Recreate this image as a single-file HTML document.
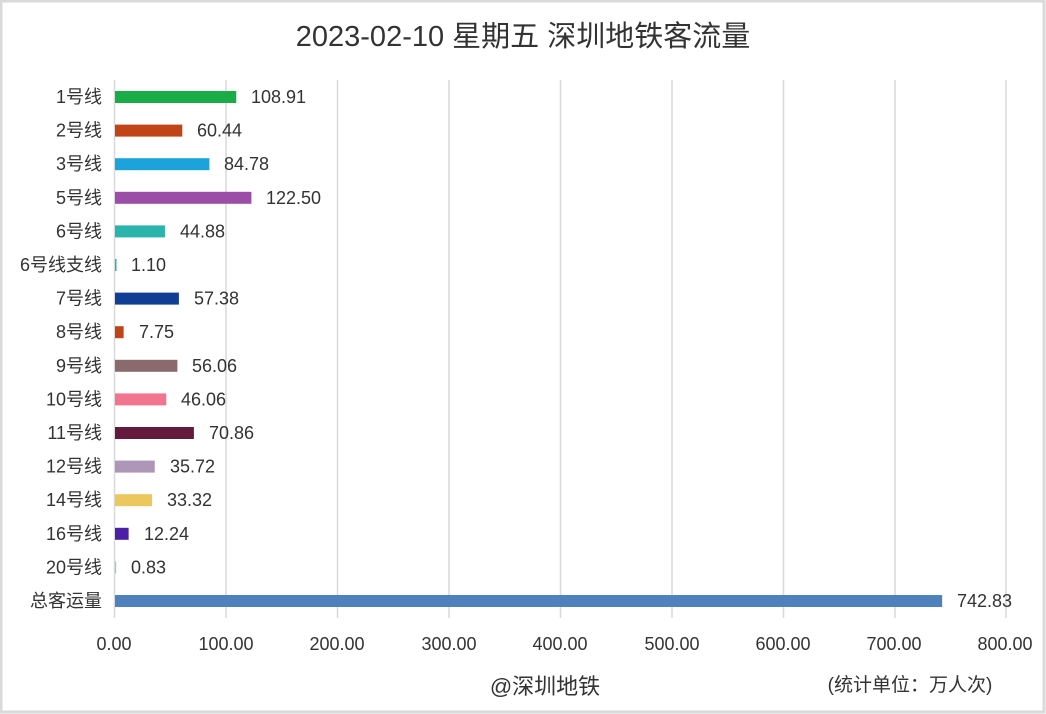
<!DOCTYPE html><html><head><meta charset="utf-8"><style>body{margin:0;background:#fff}svg{display:block}text{font-family:"Liberation Sans","Noto Sans CJK SC",sans-serif;fill:#333}</style></head><body>
<svg width="1046" height="714" xmlns="http://www.w3.org/2000/svg">
<rect x="1" y="1" width="1043" height="711" fill="#fff" stroke="#d9d9d9" stroke-width="3"/>
<text x="523" y="46" text-anchor="middle" font-size="29" fill="#444">2023-02-10 星期五 深圳地铁客流量</text>
<g stroke="#d9d9d9" stroke-width="1.5">
<line x1="114.5" y1="80" x2="114.5" y2="618"/><line x1="226" y1="80" x2="226" y2="618"/><line x1="337.5" y1="80" x2="337.5" y2="618"/><line x1="449" y1="80" x2="449" y2="618"/><line x1="560.5" y1="80" x2="560.5" y2="618"/><line x1="672" y1="80" x2="672" y2="618"/><line x1="783.5" y1="80" x2="783.5" y2="618"/><line x1="895" y1="80" x2="895" y2="618"/><line x1="1006" y1="80" x2="1006" y2="618"/>
</g>
<g font-size="18" text-anchor="middle" fill="#444">
<text x="114" y="650">0.00</text><text x="226" y="650">100.00</text><text x="337" y="650">200.00</text><text x="449" y="650">300.00</text><text x="560" y="650">400.00</text><text x="672" y="650">500.00</text><text x="783" y="650">600.00</text><text x="894" y="650">700.00</text><text x="1005" y="650">800.00</text>
</g>
<g>
<rect x="115" y="91" width="121.27" height="12" fill="#1aad47"/>
<rect x="115" y="124.6" width="67.30" height="12" fill="#c04418"/>
<rect x="115" y="158.2" width="94.40" height="12" fill="#1ca3dc"/>
<rect x="115" y="191.8" width="136.40" height="12" fill="#9b4ea7"/>
<rect x="115" y="225.4" width="49.97" height="12" fill="#2ab4ac"/>
<rect x="115" y="259" width="1.5" height="12" fill="#2ab4ac"/>
<rect x="115" y="292.6" width="63.89" height="12" fill="#113e95"/>
<rect x="115" y="326.2" width="8.63" height="12" fill="#c04418"/>
<rect x="115" y="359.8" width="62.42" height="12" fill="#8a6a6d"/>
<rect x="115" y="393.4" width="51.29" height="12" fill="#f27590"/>
<rect x="115" y="427" width="78.90" height="12" fill="#641a3c"/>
<rect x="115" y="460.6" width="39.77" height="12" fill="#ae96b8"/>
<rect x="115" y="494.2" width="37.10" height="12" fill="#ecc75d"/>
<rect x="115" y="527.8" width="13.63" height="12" fill="#4b1fa8"/>
<rect x="115" y="561.4" width="1.2" height="12" fill="#86d3d6"/>
<rect x="115" y="595" width="827.14" height="12" fill="#4f81bd"/>
</g>
<g font-size="18" text-anchor="end">
<text x="102" y="103">1号线</text><text x="102" y="136.6">2号线</text><text x="102" y="170.2">3号线</text><text x="102" y="203.8">5号线</text><text x="102" y="237.4">6号线</text><text x="102" y="271">6号线支线</text><text x="102" y="304.6">7号线</text><text x="102" y="338.2">8号线</text><text x="102" y="371.8">9号线</text><text x="102" y="405.4">10号线</text><text x="102" y="439">11号线</text><text x="102" y="472.6">12号线</text><text x="102" y="506.2">14号线</text><text x="102" y="539.8">16号线</text><text x="102" y="573.4">20号线</text><text x="102" y="607">总客运量</text>
</g>
<g font-size="18">
<text x="251" y="103">108.91</text><text x="197" y="136.6">60.44</text><text x="224" y="170.2">84.78</text><text x="266" y="203.8">122.50</text><text x="180" y="237.4">44.88</text><text x="131" y="271">1.10</text><text x="194" y="304.6">57.38</text><text x="139" y="338.2">7.75</text><text x="192" y="371.8">56.06</text><text x="181" y="405.4">46.06</text><text x="209" y="439">70.86</text><text x="170" y="472.6">35.72</text><text x="167" y="506.2">33.32</text><text x="144" y="539.8">12.24</text><text x="131" y="573.4">0.83</text><text x="957" y="607">742.83</text>
</g>
<text x="910" y="691" text-anchor="middle" font-size="19" fill="#444">(统计单位：万人次)</text>
<text x="545" y="694" text-anchor="middle" font-size="22" fill="#ddd">@深圳地铁</text>
</svg></body></html>
